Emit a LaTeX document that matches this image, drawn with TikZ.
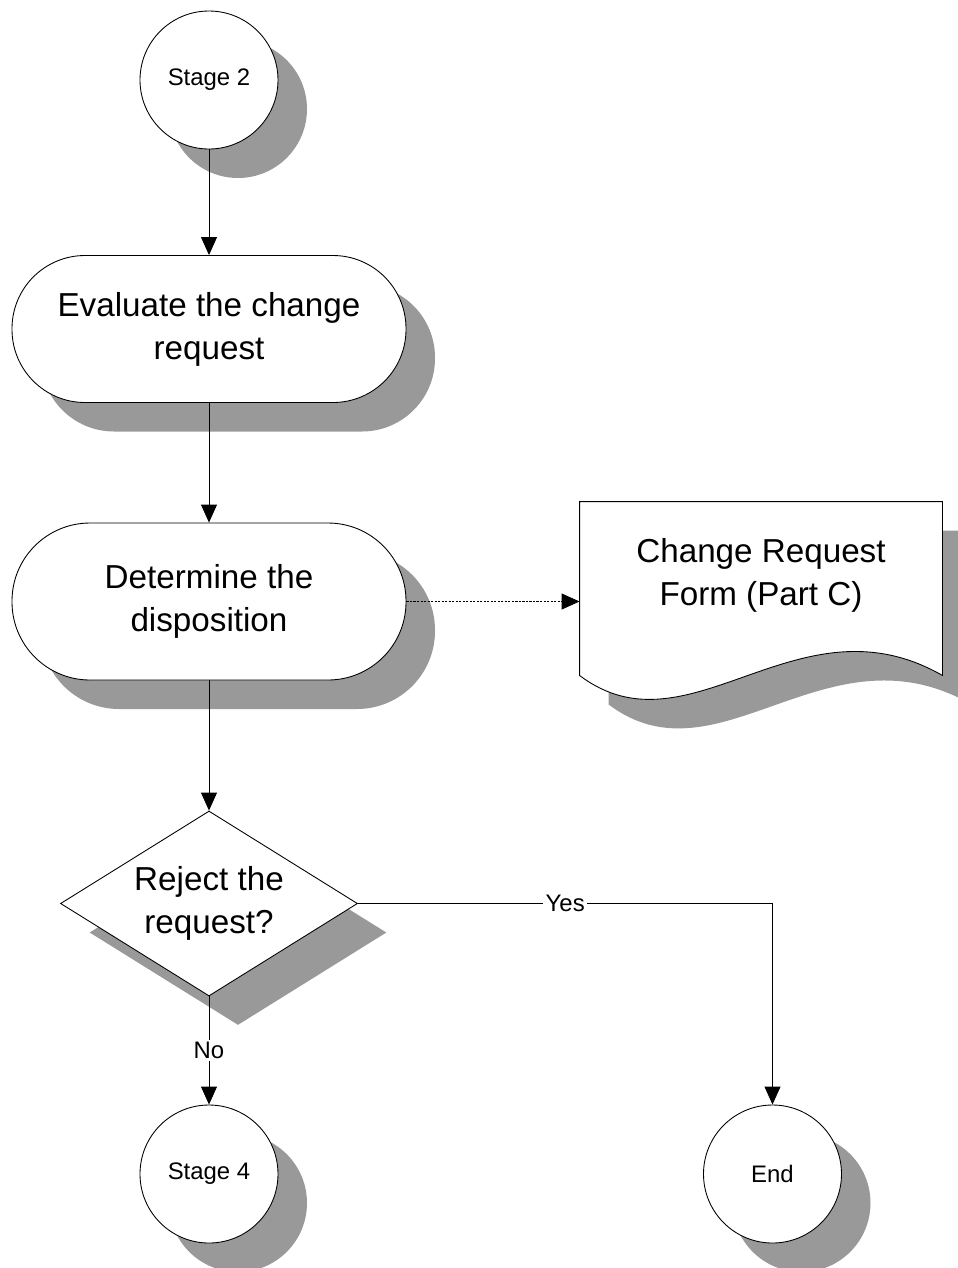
\documentclass[tikz,border=0pt]{standalone}
\usepackage{fontspec}
\setmainfont{Liberation Sans}
\usepackage{xcolor}
\usetikzlibrary{arrows.meta,shapes.geometric,shadows}

\definecolor{shadowgray}{RGB}{153,153,153}
\newcommand{\bigtext}{\fontsize{18.9}{24.5}\selectfont}
\newcommand{\smalltext}{\fontsize{13.6}{16}\selectfont}

\begin{document}
\begin{tikzpicture}[
	>={Triangle[length=0.36cm,width=0.32cm]},
	line width=0.5pt,
	castshadow/.style={drop shadow={shadow xshift=0.58cm,shadow yshift=-0.58cm,fill=shadowgray,draw=none,opacity=1}},
	stagecircle/.style={circle,draw,fill=white,castshadow,minimum size=2.76cm,inner sep=0pt,font=\smalltext},
	task/.style={rectangle,draw,fill=white,castshadow,minimum width=7.88cm,inner sep=0pt,align=center,font=\bigtext},
	decision/.style={diamond,draw,fill=white,castshadow,minimum width=5.94cm,minimum height=3.7cm,aspect=1.6,inner sep=0pt,align=center,font=\bigtext},
	docbox/.style={rectangle,minimum width=7.24cm,minimum height=3.46cm,inner sep=0pt},
	answer/.style={fill=white,inner sep=1.5pt,font=\smalltext}
]
	\useasboundingbox (0,0) rectangle (19.16,-25.36);

	\node[stagecircle] (stage2) at (4.18,-1.60) {Stage 2};
	\node[task,minimum height=2.94cm,rounded corners=1.46cm] (eval) at (4.18,-6.58) {Evaluate the change\\request};
	\node[task,minimum height=3.14cm,rounded corners=1.56cm] (det) at (4.18,-12.03) {Determine the\\disposition};
	\node[decision] (dec) at (4.18,-18.07) {Reject the\\request?};
	\node[stagecircle] (stage4) at (4.18,-23.48) {Stage 4};
	\node[stagecircle] (end) at (15.45,-23.48) {End};

	% document shape with wavy bottom
	\node[docbox] (form) at (15.22,-11.77) {};
	\draw[fill=white,castshadow] (form.south west) -- (form.north west) -- (form.north east) -- (form.south east)
		.. controls +(-2.9,1.66) and +(2.2,-1.66) .. (form.south west) -- cycle;
	\node[font=\bigtext,align=center] (formtext) at ([yshift=0.26cm]form.center) {Change Request\\Form (Part C)};

	\draw[->] (stage2) -- (eval);
	\draw[->] (eval) -- (det);
	\draw[->] (det) -- (dec);
	\draw[->,dash pattern=on 1.2pt off 0.8pt] (det.east) -- (det.east -| form.west);
	\draw[->] (dec) -- node[answer] (no) {No} (stage4);
	\draw[->] (dec.east) -| node[answer,pos=0.25] (yes) {Yes} (end);
\end{tikzpicture}
\end{document}
